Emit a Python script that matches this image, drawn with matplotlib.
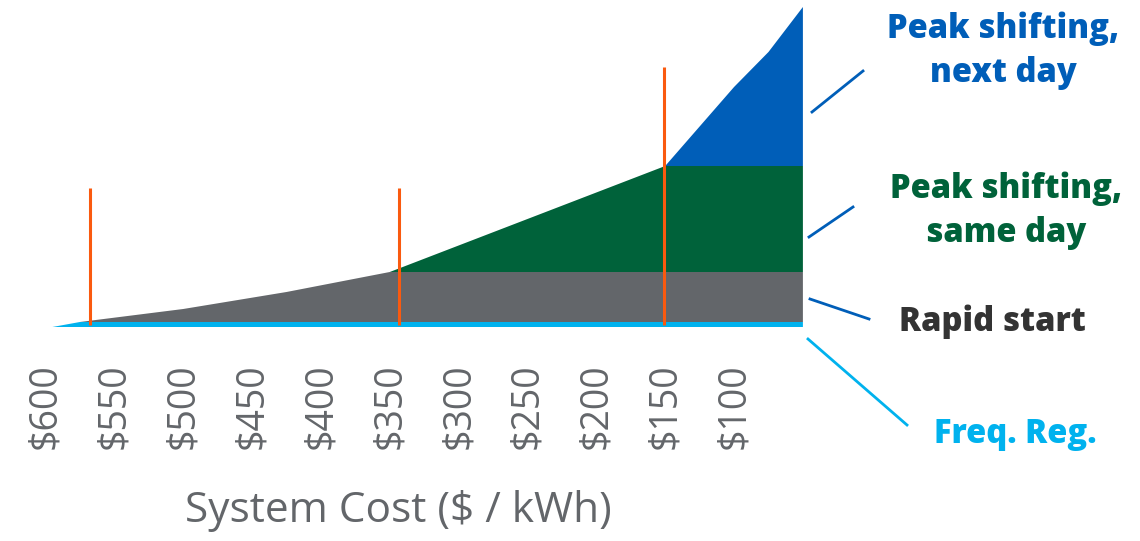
import matplotlib
matplotlib.use("Agg")
import matplotlib.pyplot as plt
import numpy as np

# ---- data ----
cost = [595, 575, 500, 425, 350, 150, 100, 75, 50]          # $ / kWh
freq_reg = [0, 5, 5, 5, 5, 5, 5, 5, 5]
rapid_start = [0, 0, 13, 30, 50, 50, 50, 50, 50]
peak_same_day = [0, 0, 0, 0, 0, 106, 106, 106, 106]
peak_next_day = [0, 0, 0, 0, 0, 0, 79, 114, 159]
marker_costs = [568, 343, 151]
marker_heights = [139, 139, 260]
tick_values = [600, 550, 500, 450, 400, 350, 300, 250, 200, 150, 100]
tick_labels = ["$600", "$550", "$500", "$450", "$400", "$350", "$300",
               "$250", "$200", "$150", "$100"]
series_names = ["Freq. Reg.", "Rapid start", "Peak shifting,\nsame day",
                "Peak shifting,\nnext day"]

C_FREQ = "#00B2EE"
C_RAPID = "#63666A"
C_SAME = "#00623A"
C_NEXT = "#005EB8"
C_ORANGE = "#FA5A0F"
C_TEXT = "#63666A"

W, H = 1140, 541
fig = plt.figure(figsize=(W / 100, H / 100), dpi=100)
fig.patch.set_facecolor("white")

ax = fig.add_axes([45.5 / W, (H - 327) / H, 757.4 / W, 320 / H])
ax.stackplot(cost, freq_reg, rapid_start, peak_same_day, peak_next_day,
             colors=[C_FREQ, C_RAPID, C_SAME, C_NEXT], linewidth=0,
             labels=series_names)
ax.vlines(marker_costs, 2, marker_heights, colors=C_ORANGE, linewidth=2.2)
ax.set_xlim(600, 50)
ax.set_ylim(0, 320)
for s in ax.spines.values():
    s.set_visible(False)
ax.set_yticks([])
ax.set_xticks(tick_values)
ax.set_xticklabels(tick_labels, rotation=90, fontsize=27, color=C_TEXT,
                   family="Open Sans")
ax.tick_params(axis="x", length=0, pad=26)

fig.text(398 / W, (H - 522) / H, "System Cost ($ / kWh)", ha="center",
         va="baseline", fontsize=30.5, color=C_TEXT, family="Open Sans")

# labels on right
def lab(x, y, s, c):
    fig.text(x / W, (H - y) / H, s, ha="center", va="baseline", fontsize=23.5,
             fontweight=800, color=c, family="Open Sans")

lab(1003, 38, "Peak shifting,", C_NEXT)
lab(1003, 82, "next day", C_NEXT)
lab(1006, 198, "Peak shifting,", C_SAME)
lab(1006, 242, "same day", C_SAME)
lab(992, 331, "Rapid start", "#333333")
lab(1015, 443, "Freq. Reg.", C_FREQ)

# connector lines (pixel coords overlay)
ov = fig.add_axes([0, 0, 1, 1], facecolor="none")
ov.set_xlim(0, W)
ov.set_ylim(H, 0)
ov.axis("off")
ov.plot([812, 863], [112, 71], color=C_NEXT, lw=2)
ov.plot([809, 853], [237, 207], color=C_NEXT, lw=2)
ov.plot([810, 869], [299, 319], color=C_NEXT, lw=2)
ov.plot([808, 907], [339, 425], color=C_FREQ, lw=2)

fig.savefig("out.png", dpi=100, facecolor="white")
